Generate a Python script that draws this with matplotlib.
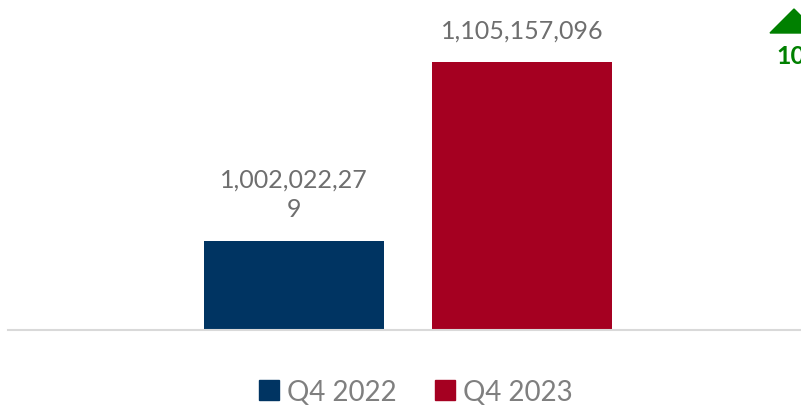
import matplotlib.pyplot as plt
from matplotlib.patches import Patch, Polygon

# data
series = ['Q4 2022', 'Q4 2023']
values = [1002022279, 1105157096]
labels = ['1,002,022,27\n9', '1,105,157,096']
colors = ['#003462', '#A50021']

growth = (values[1] / values[0] - 1) * 100

plt.rcParams['font.family'] = ['Lato', 'DejaVu Sans']

fig = plt.figure(figsize=(8.01, 4.06), dpi=100)
ax = fig.add_axes([8 / 801, 75 / 406, 793 / 801, 331 / 406])

pos = [0, 1]
ax.bar(pos, values, width=0.788, color=colors, zorder=2)
for p, v, lab in zip(pos, values, labels):
    ax.annotate(lab, (p, v), xytext=(0, 15), textcoords='offset points',
                ha='center', va='bottom', fontsize=18, color='#6E6E6E',
                linespacing=1.35)

ax.set_xlim(-1.25, 2.22)
ax.set_ylim(950.7e6, 1141.5e6)
ax.set_xticks([])
ax.set_yticks([])
for s in ['top', 'right', 'left']:
    ax.spines[s].set_visible(False)
ax.spines['bottom'].set_color('#D9D9D9')
ax.spines['bottom'].set_linewidth(1.5)

# growth indicator, cut at the right edge like the original
tri = Polygon([[770 / 801, (406 - 34) / 406], [818 / 801, (406 - 34) / 406],
               [794 / 801, (406 - 10) / 406]], closed=True,
              transform=fig.transFigure, color='#008000', clip_on=False)
fig.patches.append(tri)
fig.text(776 / 801, (406 - 57) / 406, '%.1f%%' % growth, color='#008000',
         fontsize=18, fontweight='bold', ha='left', va='center')

handles = [Patch(color=c, label=s) for c, s in zip(colors, series)]
fig.legend(handles=handles, loc='center', bbox_to_anchor=(416 / 801, 13 / 406),
           ncol=2, frameon=False, fontsize=20, labelcolor='#7F7F7F',
           handlelength=0.7, handleheight=0.75, handletextpad=0.3,
           columnspacing=1.4)

fig.savefig('out.png', dpi=100)
